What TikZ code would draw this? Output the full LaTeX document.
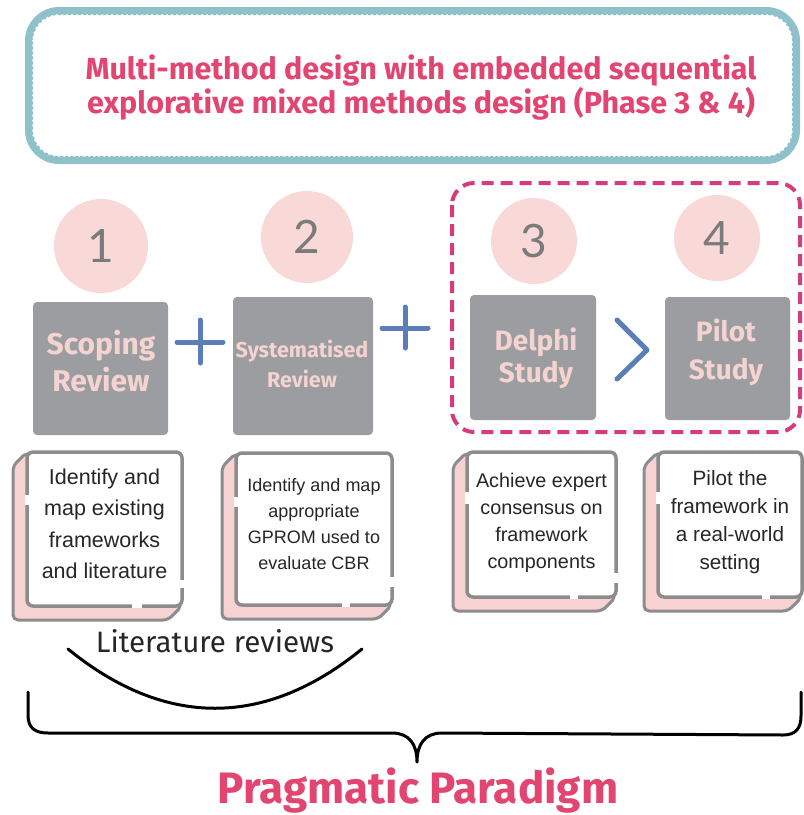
\documentclass[tikz,border=0pt]{standalone}
\usepackage{fontspec}
\setmainfont{Fira Sans}
\newfontfamily\cardfont{Liberation Sans}
\newfontfamily\numfont{Lato}

\definecolor{framecyan}{HTML}{8EC1C9}
\definecolor{headpink}{HTML}{E2456F}
\definecolor{discpink}{HTML}{F9D8D8}
\definecolor{numgray}{HTML}{7B7B7B}
\definecolor{boxgray}{HTML}{9C9DA0}
\definecolor{labelpink}{HTML}{F4D3D1}
\definecolor{signblue}{HTML}{5B7DB8}
\definecolor{dashpink}{HTML}{D63B7D}
\definecolor{cardgray}{HTML}{8C8C8C}
\definecolor{cardpink}{HTML}{F6D2D2}
\definecolor{inkdark}{HTML}{262626}

% description card: name, left, top, right, bottom, text font size, line skip, text shift, text
\newcommand\drawcard[9]{%
  \filldraw[fill=cardpink, draw=cardgray, line width=3, rounded corners=5, line join=round]
    (#2,#3) -- (#2-14,#3+14) -- (#2-14,#5+14) -- (#4-14,#5+14) -- (#4,#5) -- cycle;
  \node[cardfront, minimum width={(#4-#2)*1pt}, minimum height={(#5-#3)*1pt}]
    (#1) at ({(#2+#4)/2},{(#3+#5)/2}) {};
  \node[cardtext, font=\cardfont\fontsize{#6}{#7}\selectfont]
    (#1txt) at ({(#2+#4)/2},{(#3+#5)/2+#8}) {#9};
}

\begin{document}
\begin{tikzpicture}[x=1pt,y=-1pt,
  phasedisc/.style={circle, fill=discpink, inner sep=0, minimum size=#1,
    text=numgray, font=\numfont\fontsize{46}{46}\selectfont},
  phasebox/.style={fill=boxgray, rounded corners=4, inner sep=0},
  phaselabel/.style={text=labelpink, align=center, inner sep=0},
  cardfront/.style={fill=white, draw=cardgray, line width=3.5, rounded corners=6, inner sep=0},
  cardtext/.style={text=inkdark, align=center, inner sep=0},
  signline/.style={signblue, line width=5, line cap=round, line join=round},
  gapmark/.style={white, line width=4},
]
\useasboundingbox (0,0) rectangle (804,815);

% heading frame with scalloped inner edge
\draw[framecyan, line width=8, rounded corners=30] (29,11) rectangle (796,160);
\draw[white, line width=3.2, line cap=round, dash pattern=on 0pt off 5pt, rounded corners=25]
  (33.5,15.5) rectangle (791.5,155.5);
\node[text=headpink, align=center, inner sep=0,
      font=\bfseries\fontsize{30.5}{34}\selectfont] (title) at (421,88)
  {Multi-method design with embedded sequential\\explorative mixed methods design (Phase 3 \& 4)};

% phases 3 and 4 grouped
\draw[dashpink, line width=4, dash pattern=on 12pt off 7pt, rounded corners=22]
  (452,183) rectangle (800,432);

% numbered discs
\node[phasedisc=94] (d1) at (101,246) {1};
\node[phasedisc=92] (d2) at (307,237) {2};
\node[phasedisc=86] (d3) at (534,241) {3};
\node[phasedisc=86] (d4) at (717,238) {4};

% method boxes
\node[phasebox, minimum width=135, minimum height=133] (b1) at (100.5,368.5) {};
\node[phasebox, minimum width=140, minimum height=138] (b2) at (303,366) {};
\node[phasebox, minimum width=126, minimum height=125] (b3) at (533,357.5) {};
\node[phasebox, minimum width=125, minimum height=123] (b4) at (727.5,358.5) {};

\node[phaselabel, font=\bfseries\fontsize{30}{37}\selectfont] (l1) at (101,361) {Scoping\\Review};
\node[phaselabel, font=\bfseries\fontsize{21.5}{30}\selectfont] (l2) at (302,364) {Systematised\\Review};
\node[phaselabel, font=\bfseries\fontsize{28}{32}\selectfont] (l3) at (536,358) {Delphi\\Study};
\node[phaselabel, font=\bfseries\fontsize{28}{38}\selectfont] (l4) at (726,352) {Pilot\\Study};

% plus signs and chevron between the boxes
\draw[signline] (177,342) -- (223,342) (200,320) -- (200,363);
\draw[signline] (382,328) -- (428,328) (405,307) -- (405,348);
\draw[signline] (617,320) -- (647,350) -- (617,379);

% description cards
\drawcard{c1}{27}{452}{182}{606}{21.5}{31.5}{-5}{Identify and\\map existing\\frameworks\\and literature}
\drawcard{c2}{236}{453}{392}{605}{18}{26}{-5}{Identify and map\\appropriate\\GPROM used to\\evaluate CBR}
\drawcard{c3}{467}{452}{616}{597}{19.8}{27}{-2}{Achieve expert\\consensus on\\framework\\components}
\drawcard{c4}{658}{452}{802}{597}{20.7}{28}{-2}{Pilot the\\framework in\\a real-world\\setting}

% small breaks in the card outlines
\draw[gapmark] (27,495) -- (27,505) (132,606) -- (142,606) (182,580) -- (182,588);
\draw[gapmark] (236,497) -- (236,507) (342,605) -- (350,605) (392,577) -- (392,587);
\draw[gapmark] (467,492) -- (467,504) (570,597) -- (578,597) (616,573) -- (616,583);
\draw[gapmark] (658,492) -- (658,504) (762,597) -- (770,597);

% literature reviews grouping
\node[text=inkdark, inner sep=0, anchor=base, font=\fontsize{29.5}{29.5}\selectfont] (lit) at (215,652) {Literature reviews};
\coordinate (arcL) at (68,649);
\coordinate (arcR) at (362,649);
\draw[black, line width=3, line cap=round] (arcL) .. controls (165,728) and (265,728) .. (arcR);

% brace over the whole study
\coordinate (braceL) at (28,692);
\coordinate (braceTip) at (417,762);
\coordinate (braceR) at (801,692);
\draw[black, line width=3, line cap=round, line join=round]
  (braceL) -- (28,715) .. controls (28,728) and (35,733) .. (48,733)
  -- (392,733) .. controls (409,733) and (417,744) .. (braceTip)
  .. controls (417,744) and (425,733) .. (442,733)
  -- (783,735) .. controls (796,735) and (801,728) .. (801,716) -- (braceR);

\node[text=headpink, inner sep=0, anchor=base, font=\bfseries\fontsize{44}{44}\selectfont] (paradigm) at (418,803) {Pragmatic Paradigm};
\end{tikzpicture}
\end{document}
